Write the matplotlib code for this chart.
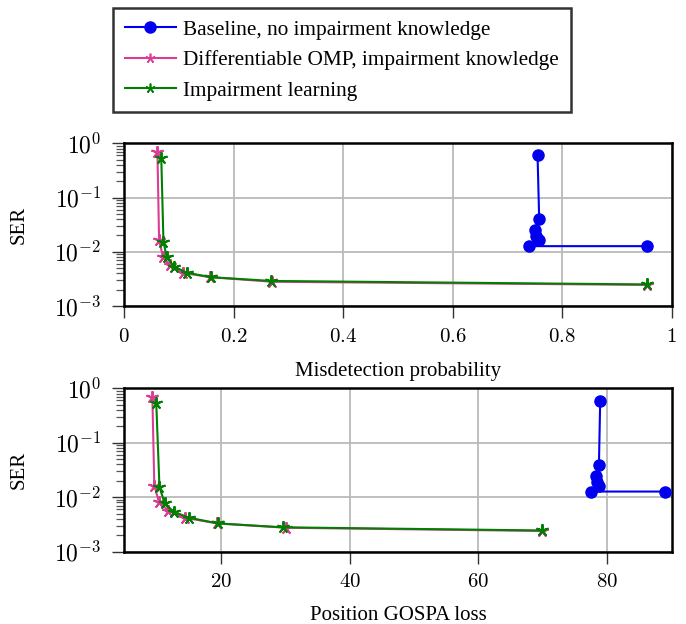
import math
import matplotlib.pyplot as plt
import matplotlib.ticker as mticker
from matplotlib.lines import Line2D

plt.rcParams['font.family'] = ['Liberation Serif', 'DejaVu Serif']
plt.rcParams['mathtext.fontset'] = 'cm'

# Misdetection probability vs SER
base_pmd = [0.755, 0.758, 0.750, 0.753, 0.757, 0.739, 0.955]
base_ser_pmd = [0.61, 0.040, 0.025, 0.0195, 0.0165, 0.0127, 0.0127]
omp_pmd = [0.061, 0.064, 0.071, 0.084, 0.107, 0.157, 0.271, 0.955]
omp_ser_pmd = [0.69, 0.0165, 0.0081, 0.0057, 0.0041, 0.0034, 0.0028, 0.00245]
learn_pmd = [0.068, 0.072, 0.078, 0.092, 0.115, 0.159, 0.268, 0.954]
learn_ser_pmd = [0.54, 0.0153, 0.0079, 0.0053, 0.0041, 0.0034, 0.0029, 0.0025]

# Position GOSPA loss vs SER
base_gospa = [78.9, 78.7, 78.3, 78.45, 78.7, 77.4, 89.0]
base_ser_gospa = [0.59, 0.039, 0.0245, 0.019, 0.016, 0.0127, 0.0127]
omp_gospa = [9.4, 9.7, 10.4, 11.85, 14.4, 19.5, 30.1, 69.9]
omp_ser_gospa = [0.68, 0.0163, 0.0083, 0.0057, 0.0042, 0.0033, 0.00275, 0.0024]
learn_gospa = [10.0, 10.5, 11.3, 12.7, 15.1, 19.6, 29.7, 69.9]
learn_ser_gospa = [0.545, 0.0153, 0.0078, 0.0054, 0.0042, 0.0033, 0.0028, 0.00245]

labels = ['Baseline, no impairment knowledge',
          'Differentiable OMP, impairment knowledge',
          'Impairment learning']
c_base = '#0000ee'
c_omp = '#dd3c96'
c_learn = '#008000'
star = (5, 2, 0)

fig = plt.figure(figsize=(6.86, 6.24), dpi=100)
ax1 = fig.add_axes([0.1808, 0.5096, 0.7984, 0.2607])
ax2 = fig.add_axes([0.1808, 0.1159, 0.7984, 0.2619])


def draw(ax, bx, by, ox, oy, lx, ly):
    ax.plot(bx, by, color=c_base, lw=1.5, marker='o', ms=8, zorder=3)
    ax.plot(ox, oy, color=c_omp, lw=1.5, marker=star, ms=9, mew=1.4, zorder=4)
    ax.plot(lx, ly, color=c_learn, lw=1.5, marker=star, ms=9, mew=1.4, zorder=5)
    ax.set_yscale('log')
    ax.set_ylim(1e-3, 1)
    ax.yaxis.set_major_locator(mticker.LogLocator(base=10, numticks=10))
    ax.yaxis.set_minor_locator(mticker.LogLocator(base=10, subs=range(2, 10), numticks=10))
    ax.yaxis.set_major_formatter(mticker.FuncFormatter(
        lambda v, p: r'$10^{%d}$' % round(math.log10(v))))
    ax.yaxis.set_minor_formatter(mticker.NullFormatter())
    ax.grid(True, which='major', color='#bababa', lw=1.3)
    ax.set_axisbelow(True)
    for s in ax.spines.values():
        s.set_linewidth(1.8)
    ax.tick_params(which='major', direction='out', length=8.5, width=1.0,
                   labelsize=15, color='#333333')
    ax.tick_params(which='minor', direction='out', length=6, width=0.9,
                   color='#555555')
    ax.tick_params(axis='y', which='major', pad=8, labelsize=17)
    ax.tick_params(axis='x', which='major', pad=7)
    ax.tick_params(axis='x', which='minor', bottom=False)
    ax.set_ylabel('SER', fontsize=15, labelpad=18)


draw(ax1, base_pmd, base_ser_pmd, omp_pmd, omp_ser_pmd, learn_pmd, learn_ser_pmd)
ax1.set_xlim(0, 1)
ax1.set_xticks([0, 0.2, 0.4, 0.6, 0.8, 1])
ax1.xaxis.set_major_formatter(mticker.FuncFormatter(lambda v, p: '$%g$' % v))
ax1.set_xlabel('Misdetection probability', fontsize=15, labelpad=11)

draw(ax2, base_gospa, base_ser_gospa, omp_gospa, omp_ser_gospa, learn_gospa, learn_ser_gospa)
ax2.set_xlim(5, 90)
ax2.set_xticks([20, 40, 60, 80])
ax2.xaxis.set_major_formatter(mticker.FuncFormatter(lambda v, p: '$%g$' % v))
ax2.set_xlabel('Position GOSPA loss', fontsize=15, labelpad=10)

handles = [
    Line2D([], [], color=c_base, lw=1.5, marker='o', ms=8),
    Line2D([], [], color=c_omp, lw=1.5, marker=star, ms=7, mew=1.2),
    Line2D([], [], color=c_learn, lw=1.5, marker=star, ms=7, mew=1.2),
]
leg = fig.legend(handles, labels, loc='upper left', bbox_to_anchor=(0.1647, 0.987),
                 fontsize=15.3, frameon=True, fancybox=False, edgecolor='black',
                 handlelength=2.4, handletextpad=0.35, labelspacing=0.5,
                 borderpad=0.55, borderaxespad=0)
leg.get_frame().set_linewidth(1.8)

fig.savefig('out.png', dpi=100)
